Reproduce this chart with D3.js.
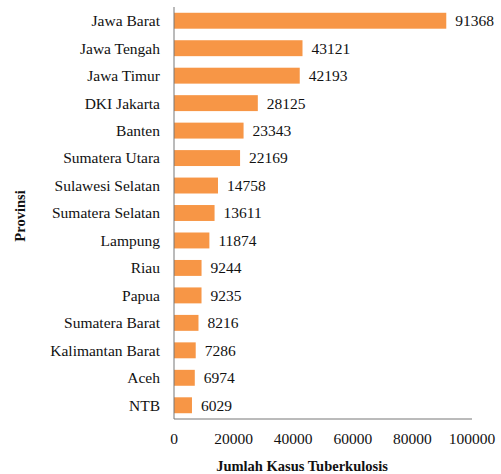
<!DOCTYPE html>
<html>
<head>
<meta charset="utf-8">
<script src="https://cdn.jsdelivr.net/npm/d3@7"></script>
<style>
  body { margin: 0; background: #fff; }
  svg text { font-family: "Liberation Serif", "DejaVu Serif", "Noto Serif", "FreeSerif", "Times New Roman", Times, serif; }
</style>
</head>
<body>
<div id="chart"></div>
<script>
// data dari gambar
const provinsi = ["Jawa Barat", "Jawa Tengah", "Jawa Timur", "DKI Jakarta", "Banten",
  "Sumatera Utara", "Sulawesi Selatan", "Sumatera Selatan", "Lampung", "Riau",
  "Papua", "Sumatera Barat", "Kalimantan Barat", "Aceh", "NTB"];
const kasus = [91368, 43121, 42193, 28125, 23343, 22169, 14758, 13611, 11874, 9244,
  9235, 8216, 7286, 6974, 6029];
const xTicks = [0, 20000, 40000, 60000, 80000, 100000];

const W = 501, H = 474;
const m = { left: 174, right: 29, top: 7, bottom: 55 };

const svg = d3.select("#chart").append("svg")
  .attr("width", W).attr("height", H);

const x = d3.scaleLinear().domain([0, 100000]).range([m.left, W - m.right]);
const y = d3.scaleBand().domain(provinsi).range([m.top, H - m.bottom]).paddingInner(0.42).paddingOuter(0.21);

svg.selectAll("rect.bar")
  .data(provinsi)
  .join("rect")
  .attr("class", "bar")
  .attr("x", x(0))
  .attr("y", d => y(d))
  .attr("width", (d, i) => x(kasus[i]) - x(0))
  .attr("height", y.bandwidth())
  .attr("fill", "#f79646");

svg.selectAll("text.val")
  .data(provinsi)
  .join("text")
  .attr("class", "val")
  .attr("x", (d, i) => x(kasus[i]) + 9)
  .attr("y", d => y(d) + y.bandwidth() / 2)
  .attr("dy", "0.35em")
  .attr("fill", "#111")
  .style("font-size", "15.5px")
  .text((d, i) => kasus[i]);

svg.selectAll("text.cat")
  .data(provinsi)
  .join("text")
  .attr("class", "cat")
  .attr("x", 160)
  .attr("y", d => y(d) + y.bandwidth() / 2)
  .attr("dy", "0.35em")
  .attr("text-anchor", "end")
  .attr("fill", "#111")
  .style("font-size", "15.5px")
  .text(d => d);

// garis sumbu
svg.append("line")
  .attr("x1", x(0)).attr("x2", x(0))
  .attr("y1", m.top).attr("y2", H - m.bottom)
  .attr("stroke", "#777");
svg.append("line")
  .attr("x1", x(0)).attr("x2", x(100000))
  .attr("y1", H - m.bottom).attr("y2", H - m.bottom)
  .attr("stroke", "#777");

svg.selectAll("text.tick")
  .data(xTicks)
  .join("text")
  .attr("class", "tick")
  .attr("x", d => x(d))
  .attr("y", 439)
  .attr("dy", "0.35em")
  .attr("text-anchor", "middle")
  .attr("fill", "#111")
  .style("font-size", "15.5px")
  .text(d => d);

svg.append("text")
  .attr("x", 302).attr("y", 466)
  .attr("dy", "0.35em")
  .attr("text-anchor", "middle")
  .attr("fill", "#111")
  .style("font-size", "14.5px")
  .style("font-weight", "bold")
  .text("Jumlah  Kasus Tuberkulosis");

svg.append("text")
  .attr("transform", "translate(20,216) rotate(-90)")
  .attr("dy", "0.35em")
  .attr("text-anchor", "middle")
  .attr("fill", "#111")
  .style("font-size", "14.5px")
  .style("font-weight", "bold")
  .text("Provinsi");
</script>
</body>
</html>
